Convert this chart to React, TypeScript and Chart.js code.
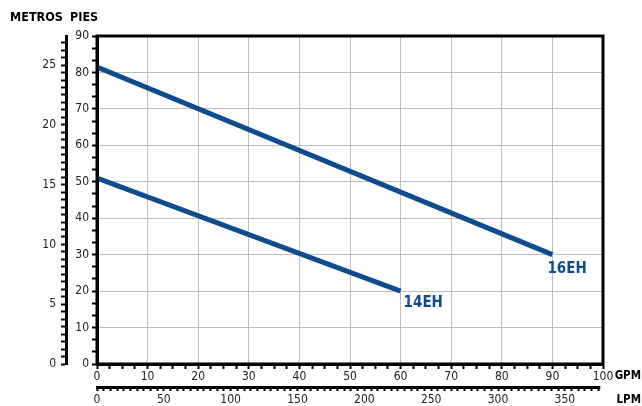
import React, { useEffect, useRef } from 'react';
import { Chart, registerables } from 'chart.js';

Chart.register(...registerables);

// ---- data ----
const seriesNames = ['16EH', '14EH'];
const gpm16EH = [0, 90];
const pies16EH = [81.5, 30];
const gpm14EH = [0, 60];
const pies14EH = [51, 20];

const GPM_MAX = 100;
const PIES_MAX = 90;
const LPM_AXIS_END = 375;
const M_TO_FT = 3.28084;
const GPM_TO_LPM = 3.78541;

const gpmLabelStep = 10;
const piesLabelStep = 10;
const metrosLabelStep = 5;
const lpmLabelStep = 50;

// ---- style ----
const FONT = "'Liberation Sans Narrow', 'DejaVu Sans Condensed', Roboto, sans-serif";
const LINE_COLOR = '#104c8c';
const GRID_COLOR = '#bdbdbd';
const LABEL_OFFSETS = [
  { dx: -5, dy: 7 },
  { dx: 3, dy: 4 },
];

const isMult = (v: number, m: number) => Math.abs(v / m - Math.round(v / m)) < 1e-6;

const decor = {
  id: 'decor',
  afterDatasetsDraw(chart: any) {
    const { ctx, chartArea: a, scales } = chart;
    ctx.save();
    ctx.strokeStyle = '#000';
    ctx.lineWidth = 3;
    ctx.strokeRect(a.left, a.top, a.right - a.left, a.bottom - a.top);

    // LPM axis line
    const x2 = scales.x2;
    ctx.beginPath();
    ctx.moveTo(x2.left - 1, x2.top + 1.5);
    ctx.lineTo(x2.getPixelForValue(LPM_AXIS_END) + 2, x2.top + 1.5);
    ctx.stroke();

    ctx.fillStyle = LINE_COLOR;
    ctx.font = `bold 15px ${FONT}`;
    ctx.textAlign = 'left';
    ctx.textBaseline = 'top';
    chart.data.datasets.forEach((ds: any, i: number) => {
      const last = ds.data[ds.data.length - 1];
      const px = scales.x.getPixelForValue(last.x);
      const py = scales.y.getPixelForValue(last.y);
      ctx.fillText(ds.label, px + LABEL_OFFSETS[i].dx, py + LABEL_OFFSETS[i].dy);
    });

    ctx.fillStyle = '#000';
    ctx.font = `bold 12.5px ${FONT}`;
    ctx.textBaseline = 'middle';
    ctx.textAlign = 'left';
    ctx.fillText('METROS', 10, 18);
    ctx.fillText('PIES', 70, 18);
    ctx.font = `bold 11.5px ${FONT}`;
    ctx.textAlign = 'right';
    ctx.fillText('GPM', 641, scales.x.top + 12);
    ctx.fillText('LPM', 641, scales.x2.top + 14);
    ctx.restore();
  },
};

const tickFont = { family: FONT, size: 12 };

export default function App() {
  const ref = useRef<HTMLCanvasElement>(null);
  useEffect(() => {
    if (!ref.current) return;
    const toPts = (xs: number[], ys: number[]) => xs.map((x, i) => ({ x, y: ys[i] }));
    const chart = new Chart(ref.current, {
      type: 'line',
      data: {
        datasets: [
          {
            label: seriesNames[0],
            data: toPts(gpm16EH, pies16EH),
            borderColor: LINE_COLOR,
            borderWidth: 5,
            pointRadius: 0,
            xAxisID: 'x',
            yAxisID: 'y',
          },
          {
            label: seriesNames[1],
            data: toPts(gpm14EH, pies14EH),
            borderColor: LINE_COLOR,
            borderWidth: 5,
            pointRadius: 0,
            xAxisID: 'x',
            yAxisID: 'y',
          },
        ],
      },
      options: {
        animation: false,
        responsive: true,
        maintainAspectRatio: false,
        layout: { padding: { top: 36, right: 39, left: 0, bottom: 0 } },
        plugins: { legend: { display: false }, tooltip: { enabled: false } },
        scales: {
          x: {
            type: 'linear',
            position: 'bottom',
            min: 0,
            max: GPM_MAX,
            afterFit: (s: any) => { s.height = 22; },
            border: { display: true, color: '#000', width: 3 },
            grid: {
              color: (c: any) => {
                const v = c.tick?.value;
                return v !== undefined && isMult(v, gpmLabelStep) ? GRID_COLOR : 'rgba(0,0,0,0)';
              },
              tickColor: '#000',
              tickLength: 5,
              tickWidth: 2,
              lineWidth: 1,
            },
            ticks: {
              stepSize: 2.5,
              autoSkip: false,
              maxRotation: 0,
              padding: 1,
              color: '#222',
              font: tickFont,
              callback: (v: any) => (isMult(v, gpmLabelStep) ? String(Math.round(v)) : ''),
            },
          },
          x2: {
            type: 'linear',
            position: 'bottom',
            min: 0,
            max: GPM_MAX * GPM_TO_LPM,
            afterFit: (s: any) => { s.height = 20; },
            border: { display: false },
            grid: { drawOnChartArea: false, tickColor: '#000', tickLength: 5, tickWidth: 2 },
            ticks: {
              stepSize: 5,
              includeBounds: false,
              autoSkip: false,
              maxRotation: 0,
              padding: 2,
              color: '#222',
              font: tickFont,
              callback: (v: any) => (isMult(v, lpmLabelStep) ? String(Math.round(v)) : ''),
            },
          },
          y: {
            type: 'linear',
            position: 'left',
            min: 0,
            max: PIES_MAX,
            afterFit: (s: any) => { s.width = 31; },
            border: { display: true, color: '#000', width: 3 },
            grid: {
              color: (c: any) => {
                const v = c.tick?.value;
                return v !== undefined && isMult(v, piesLabelStep) ? GRID_COLOR : 'rgba(0,0,0,0)';
              },
              tickColor: '#000',
              tickLength: 5,
              tickWidth: 2,
              lineWidth: 1,
            },
            ticks: {
              stepSize: 10 / 3,
              autoSkip: false,
              padding: 3,
              color: '#222',
              font: tickFont,
              callback: (v: any) => (isMult(v, piesLabelStep) ? String(Math.round(v)) : ''),
            },
          },
          y2: {
            type: 'linear',
            position: 'left',
            min: 0,
            max: PIES_MAX / M_TO_FT,
            afterFit: (s: any) => { s.width = 66; },
            border: { display: true, color: '#000', width: 3 },
            grid: { drawOnChartArea: false, tickColor: '#000', tickLength: 5, tickWidth: 2 },
            ticks: {
              stepSize: 0.625,
              includeBounds: false,
              autoSkip: false,
              padding: 5,
              color: '#222',
              font: tickFont,
              callback: (v: any) => (isMult(v, metrosLabelStep) ? String(Math.round(v)) : ''),
            },
          },
        },
      },
      plugins: [decor],
    });
    return () => chart.destroy();
  }, []);

  return (
    <div style={{ position: 'fixed', left: 0, top: 0, width: 642, height: 406, background: '#fff' }}>
      <canvas ref={ref} />
    </div>
  );
}
